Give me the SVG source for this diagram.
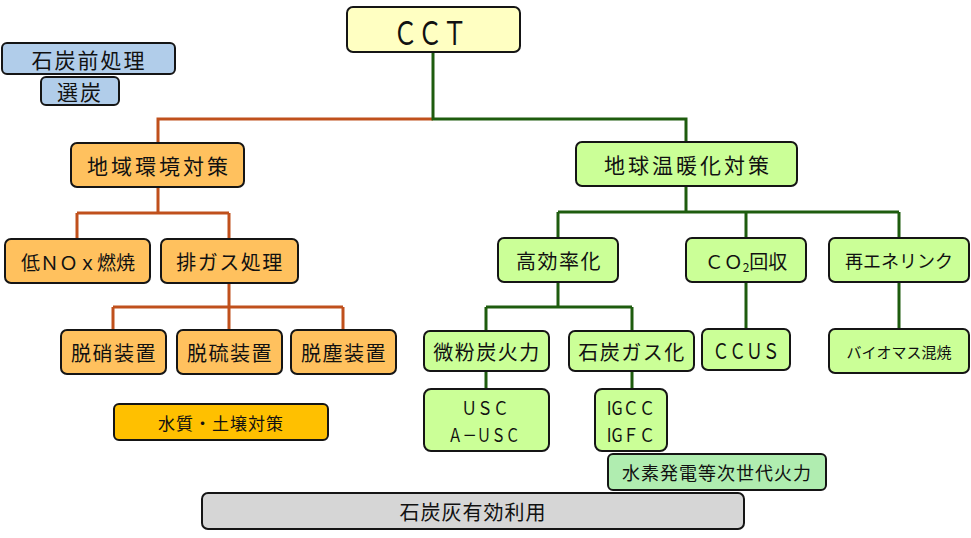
<svg xmlns="http://www.w3.org/2000/svg" width="971" height="538" viewBox="0 0 971 538">
<style>
text{font-family:"Noto Sans CJK JP","Noto Sans CJK SC",sans-serif;fill:#111;text-anchor:middle;dominant-baseline:central}
.b{stroke:#151515;stroke-width:2}
.cct{fill:#FFFFC2}
.blue{fill:#B1CDEA}
.org{fill:#FFC15E}
.gold{fill:#FFC000}
.grn{fill:#CBFF97}
.mint{fill:#B0EDB0}
.gray{fill:#D6D6D6}
.lo{fill:none;stroke:#C0501C;stroke-width:3}
.lg{fill:none;stroke:#1E5C0E;stroke-width:3}
.t20{font-size:20px;letter-spacing:1.5px}
.t21{font-size:21px;letter-spacing:3px}
.lat{font-size:21px}
.lat2{font-size:18px}
</style>
<g id="connectors">
<path class="lo" d="M433,119 H158 V143"/>
<path class="lo" d="M158,187 V213 M77,213 H229 M77,213 V239 M229,213 V239"/>
<path class="lo" d="M229,283 V330 M113,307 H343 M113,307 V330 M343,307 V330"/>
<path class="lg" d="M433,52 V119 H686 V142"/>
<path class="lg" d="M686,186 V212 M558,212 H899 M558,212 V238 M746,212 V238 M899,212 V238"/>
<path class="lg" d="M558,282 V307 M486,307 H632 M486,307 V331 M632,307 V331"/>
<path class="lg" d="M486,371 V389 M632,371 V389"/>
<path class="lg" d="M746,282 V329 M899,282 V329"/>
</g>
<g id="cct"><rect class="b cct" x="347" y="7" width="173" height="45" rx="6"/><text transform="translate(430,30) scale(0.75,1)" style="font-size:33px">ＣＣＴ</text></g>
<g id="pretreat"><rect class="b blue" x="2" y="43" width="173" height="31" rx="5"/><text x="89" y="59" style="font-size:21px;letter-spacing:2px">石炭前処理</text></g>
<g id="sentan"><rect class="b blue" x="41" y="77" width="78" height="28" rx="5"/><text x="80" y="91" style="font-size:21px;letter-spacing:2px">選炭</text></g>
<g id="chiiki"><rect class="b org" x="71" y="143" width="173" height="44" rx="6"/><text x="159" y="165" class="t21">地域環境対策</text></g>
<g id="chikyu"><rect class="b grn" x="576" y="142" width="221" height="44" rx="6"/><text x="688" y="164" class="t21">地球温暖化対策</text></g>
<g id="lownox"><rect class="b org" x="5" y="239" width="145" height="44" rx="6"/><text x="78" y="261" style="font-size:19px">低ＮＯｘ燃焼</text></g>
<g id="haigas"><rect class="b org" x="161" y="239" width="137" height="44" rx="6"/><text x="230" y="261" class="t20">排ガス処理</text></g>
<g id="dassho"><rect class="b org" x="61" y="330" width="105" height="44" rx="6"/><text x="114" y="352" class="t20">脱硝装置</text></g>
<g id="datsuryu"><rect class="b org" x="177" y="330" width="105" height="44" rx="6"/><text x="230" y="352" class="t20">脱硫装置</text></g>
<g id="datsujin"><rect class="b org" x="291" y="330" width="105" height="44" rx="6"/><text x="344" y="352" class="t20">脱塵装置</text></g>
<g id="suishitsu"><rect class="b gold" x="114" y="404" width="214" height="36" rx="5"/><text x="221" y="422" style="font-size:17px;letter-spacing:1px">水質・土壌対策</text></g>
<g id="kokoritsu"><rect class="b grn" x="498" y="238" width="120" height="44" rx="6"/><text x="559" y="260" class="t20">高効率化</text></g>
<g id="co2"><rect class="b grn" x="686" y="238" width="120" height="44" rx="6"/><text x="746" y="260" style="font-size:19px">ＣＯ<tspan dy="6" style="font-size:12px">2</tspan><tspan dy="-6">回収</tspan></text></g>
<g id="saiene"><rect class="b grn" x="829" y="238" width="140" height="44" rx="6"/><text x="899" y="260" style="font-size:18px">再エネリンク</text></g>
<g id="bifuntan"><rect class="b grn" x="424" y="331" width="125" height="40" rx="6"/><text x="487" y="351" class="t20">微粉炭火力</text></g>
<g id="gasification"><rect class="b grn" x="569" y="331" width="125" height="40" rx="6"/><text x="632" y="351" class="t20">石炭ガス化</text></g>
<g id="ccus"><rect class="b grn" x="702" y="329" width="88" height="41" rx="6"/><text class="lat" transform="translate(746,350) scale(0.8,1)">ＣＣＵＳ</text></g>
<g id="biomass"><rect class="b grn" x="829" y="329" width="140" height="44" rx="6"/><text x="899" y="351" style="font-size:15px">バイオマス混焼</text></g>
<g id="usc"><rect class="b grn" x="424" y="389" width="125" height="62" rx="7"/><text class="lat2" transform="translate(485,407) scale(0.88,1)">ＵＳＣ</text><text class="lat2" transform="translate(484,434) scale(0.8,1)">Ａ－ＵＳＣ</text></g>
<g id="igcc"><rect class="b grn" x="595" y="389" width="72" height="62" rx="7"/><text class="lat2" transform="translate(631,407) scale(0.9,1)">IGＣＣ</text><text class="lat2" transform="translate(631,434) scale(0.9,1)">IGＦＣ</text></g>
<g id="hydrogen"><rect class="b mint" x="608" y="454" width="218" height="36" rx="5"/><text x="717" y="472" style="font-size:18px;letter-spacing:1px">水素発電等次世代火力</text></g>
<g id="ash"><rect class="b gray" x="202" y="493" width="542" height="36" rx="6"/><text x="473" y="511" style="font-size:20px;letter-spacing:1px">石炭灰有効利用</text></g>
</svg>
